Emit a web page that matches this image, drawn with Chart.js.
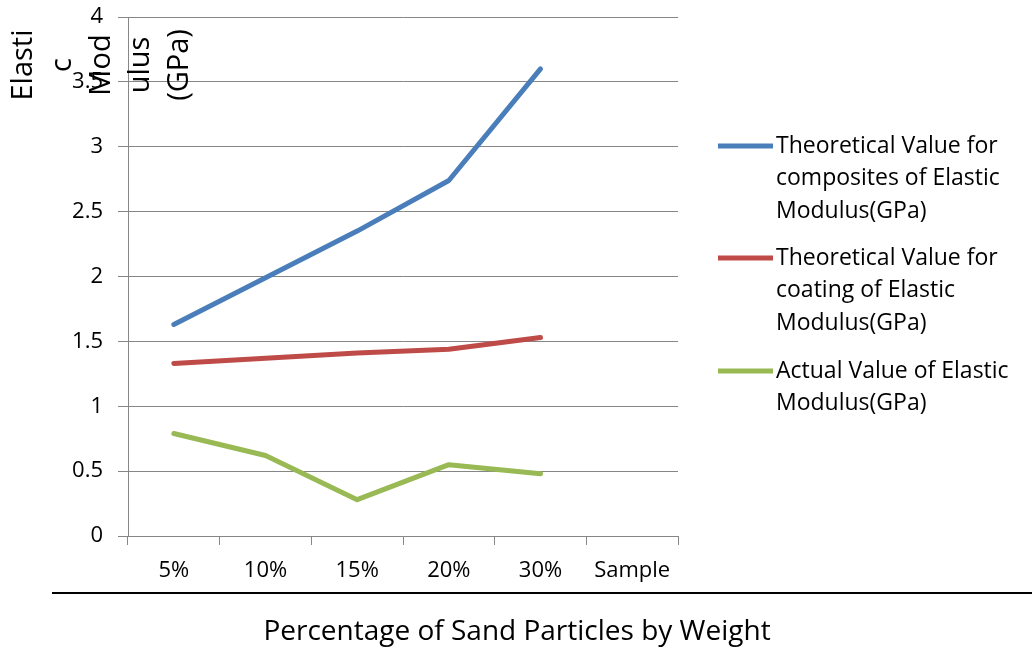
<!DOCTYPE html>
<html>
<head>
<meta charset="utf-8">
<script src="https://cdn.jsdelivr.net/npm/chart.js@4.4.0/dist/chart.umd.min.js"></script>
<style>
  html, body { margin: 0; padding: 0; background: #fff; }
  #wrap { width: 1032px; height: 650px; }
</style>
</head>
<body>
<div id="wrap"><canvas id="elastic" width="1032" height="650"></canvas></div>
<script>
const categories = ["5%", "10%", "15%", "20%", "30%", "Sample"];
const composites = [1.63, 1.99, 2.35, 2.74, 3.6];
const coating = [1.33, 1.37, 1.41, 1.44, 1.53];
const actual = [0.79, 0.62, 0.28, 0.55, 0.48];
const yTicks = [0, 0.5, 1, 1.5, 2, 2.5, 3, 3.5, 4];

const seriesNames = [
    ["Theoretical Value for", "composites of Elastic", "Modulus(GPa)"],
    ["Theoretical Value for", "coating of Elastic", "Modulus(GPa)"],
    ["Actual Value of Elastic", "Modulus(GPa)"],
];
const seriesColors = ["#4a7ebb", "#be4b48", "#98b954"];
const yTitleParts = ["Elasti", "c", "Mod", "ulus", "(GPa)"];
const xTitle = "Percentage of Sand Particles by Weight";

const gridGray = "#868686";
const FONT = "'Open Sans', sans-serif";

Chart.defaults.font.family = FONT;
Chart.defaults.color = "#000";

// y title, multi-line legend, rule and x title drawn on top of the chart
const decorPlugin = {
    id: "decor",
    afterDraw(chart) {
        const ctx = chart.ctx;
        ctx.save();

        // broken y-axis title, one rotated piece per column
        ctx.font = "29px " + FONT;
        ctx.fillStyle = "#000";
        ctx.textAlign = "center";
        ctx.textBaseline = "middle";
        const colX = [24, 63, 102, 141, 180];
        yTitleParts.forEach((part, i) => {
            ctx.save();
            ctx.translate(colX[i], 65);
            ctx.rotate(-Math.PI / 2);
            ctx.fillText(part, 0, 0);
            ctx.restore();
        });

        // legend
        ctx.font = "23px " + FONT;
        ctx.textAlign = "left";
        const entryY = [146, 258, 371];
        seriesNames.forEach((lines, i) => {
            ctx.strokeStyle = seriesColors[i];
            ctx.lineWidth = 5;
            ctx.beginPath();
            ctx.moveTo(718, entryY[i]);
            ctx.lineTo(773, entryY[i]);
            ctx.stroke();
            lines.forEach((txt, j) => {
                ctx.fillText(txt, 776, entryY[i] + j * 32.5);
            });
        });

        // black rule above the x title
        ctx.strokeStyle = "#000";
        ctx.lineWidth = 2;
        ctx.beginPath();
        ctx.moveTo(52, 593);
        ctx.lineTo(1032, 593);
        ctx.stroke();

        ctx.font = "28px " + FONT;
        ctx.textAlign = "center";
        ctx.fillText(xTitle, 517, 632);

        ctx.restore();
    },
};

new Chart(document.getElementById("elastic"), {
    type: "line",
    data: {
        labels: categories,
        datasets: [
            { data: composites, borderColor: seriesColors[0] },
            { data: coating, borderColor: seriesColors[1] },
            { data: actual, borderColor: seriesColors[2] },
        ].map((ds) => ({
            ...ds,
            borderWidth: 5,
            pointRadius: 0,
            tension: 0,
            fill: false,
            borderJoinStyle: "round",
            borderCapStyle: "round",
        })),
    },
    options: {
        responsive: false,
        animation: false,
        events: [],
        layout: {
            padding: { top: 17, right: 354, bottom: 0, left: 0 },
        },
        scales: {
            x: {
                offset: true,
                grid: {
                    offset: true,
                    drawOnChartArea: false,
                    drawTicks: true,
                    tickLength: 9,
                    color: gridGray,
                },
                border: { color: gridGray },
                ticks: {
                    padding: 13,
                    font: { size: 22 },
                    maxRotation: 0,
                },
                afterFit(scale) {
                    scale.height = 114;
                },
            },
            y: {
                min: 0,
                max: 4,
                afterBuildTicks(scale) {
                    scale.ticks = yTicks.map((v) => ({ value: v }));
                },
                grid: {
                    color: gridGray,
                    tickLength: 10,
                },
                border: { color: gridGray },
                ticks: {
                    padding: 15,
                    font: { size: 22 },
                    callback: (v) => String(v),
                },
                afterFit(scale) {
                    scale.width = 128;
                    scale.paddingTop = 0;
                    scale.paddingBottom = 0;
                },
            },
        },
        plugins: {
            legend: { display: false },
            tooltip: { enabled: false },
        },
    },
    plugins: [decorPlugin],
});
</script>
</body>
</html>
